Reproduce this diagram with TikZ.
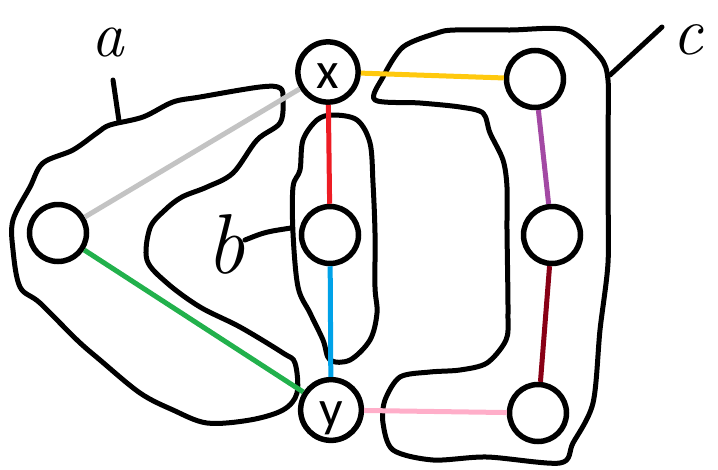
\documentclass[tikz,border=0pt]{standalone}
\usepackage{fontspec}
\newfontfamily\vfont{Carlito}
\definecolor{cgray}{RGB}{195,195,195}
\definecolor{cgreen}{RGB}{34,177,76}
\definecolor{cred}{RGB}{237,28,36}
\definecolor{cblue}{RGB}{0,162,232}
\definecolor{cyellow}{RGB}{255,201,14}
\definecolor{cpurple}{RGB}{163,73,164}
\definecolor{cdred}{RGB}{136,0,21}
\definecolor{cpink}{RGB}{255,174,201}
\begin{document}
\begin{tikzpicture}[x=1pt,y=-1pt,
  vert/.style={circle, draw, line width=5.5pt, minimum size=57pt, inner sep=0pt,
    font=\vfont\fontsize{52}{54}\selectfont, text height=44pt, text depth=12pt},
  edge/.style={line width=5pt},
  blobline/.style={line width=5pt, line join=round},
  lead/.style={line width=5pt, line cap=round},
  handlbl/.style={inner sep=0pt}]
\useasboundingbox (0,0) rectangle (718,469);
% blobs
\draw[blobline] plot[smooth cycle, tension=0.55] coordinates {
 (280,88) (260,87) (200,97) (173,102) (143,117) (110,125) (97,133) (73,150) (43,163)
 (30,187) (13,220) (13,250) (20,287) (40,303) (77,340) (100,360) (140,393) (173,410)
 (207,423) (250,420) (283,410) (297,393) (295,363) (283,353) (240,327) (200,307)
 (167,283) (147,260) (150,228) (165,210) (182,197) (207,187) (233,173) (257,140)
 (280,123) (283,100)};
\draw[blobline] plot[smooth cycle, tension=0.55] coordinates {
 (303,140) (317,120) (333,115) (357,120) (370,143) (373,183) (375,233) (375,287)
 (377,313) (370,340) (350,360) (330,360) (323,340) (310,313) (298,287) (293,233)
 (293,187) (300,170)};
\draw[blobline] plot[smooth cycle, tension=0.5] coordinates {
 (375,100) (383,77) (403,47) (437,33) (455,30) (510,30) (567,30) (600,57) (608,80)
 (608,133) (608,193) (608,263) (600,330) (593,403) (573,443) (560,463) (487,457)
 (433,460) (393,450) (383,423) (385,400) (400,377) (430,372) (460,370) (487,363)
 (506,340) (508,313) (507,230) (507,187) (503,160) (490,133) (483,113) (460,107)
 (420,103)};
% vertices
\node[vert] (x) at (328,72) {x};
\node[vert] (l) at (58,233) {};
\node[vert] (m) at (330,235) {};
\node[vert] (y) at (331,410) {y};
\node[vert] (r1) at (535,79) {};
\node[vert] (r2) at (552,235) {};
\node[vert] (r3) at (538,413) {};
% edges
\draw[edge, cgray] (l) -- (x);
\draw[edge, cgreen] (l) -- (y);
\draw[edge, cred] (x) -- (m);
\draw[edge, cblue] (m) -- (y);
\draw[edge, cyellow] (x) -- (r1);
\draw[edge, cpurple] (r1) -- (r2);
\draw[edge, cdred] (r2) -- (r3);
\draw[edge, cpink] (y) -- (r3);
% labels and leaders
\node[handlbl, font=\itshape\fontsize{65}{70}\selectfont] (la) at (108,42) {a};
\node[handlbl, font=\itshape\fontsize{85}{90}\selectfont] (lb) at (226,244) {b};
\node[handlbl, font=\itshape\fontsize{68}{72}\selectfont] (lc) at (688,40) {c};
\coordinate (a1) at (113,80);
\coordinate (a2) at (119,121);
\coordinate (b1) at (245,240);
\coordinate (b2) at (291,228);
\coordinate (c1) at (662,27);
\coordinate (c2) at (610,75);
\draw[lead] (a1) -- (a2);
\draw[lead] (b1) .. controls (265,232) .. (b2);
\draw[lead] (c1) -- (c2);
\end{tikzpicture}
\end{document}
